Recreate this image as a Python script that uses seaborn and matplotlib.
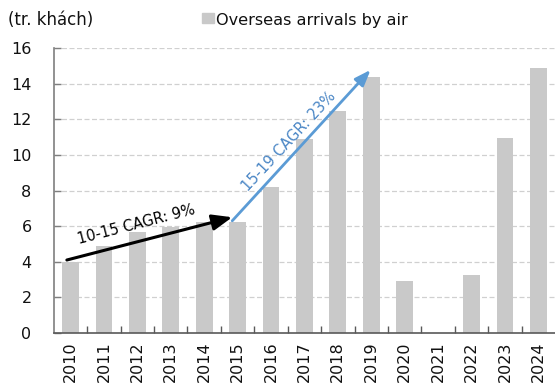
import matplotlib
matplotlib.use("Agg")
import matplotlib.pyplot as plt
import seaborn as sns
import pandas as pd

years = ["2010", "2011", "2012", "2013", "2014", "2015", "2016", "2017",
         "2018", "2019", "2020", "2021", "2022", "2023", "2024"]
arrivals = [4.0, 4.9, 5.65, 5.98, 6.25, 6.25, 8.22, 10.9, 12.47, 14.38,
            2.94, 0.0, 3.24, 10.95, 14.85]
series_name = "Overseas arrivals by air"
unit_label = "(tr. khách)"
cagr_labels = ["10-15 CAGR: 9%", "15-19 CAGR: 23%"]

sns.set_theme(style="white")
plt.rcParams["font.family"] = ["DejaVu Sans"]

df = pd.DataFrame({"year": years, "value": arrivals})

fig = plt.figure(figsize=(5.55, 3.9), dpi=100)
ax = fig.add_axes([0.097, 0.146, 0.903, 0.731])

bar_color = "#C9C9C9"
sns.barplot(data=df, x="year", y="value", color=bar_color, width=0.5,
            saturation=1, linewidth=0, ax=ax)

ax.set_xlim(-0.5, len(years) - 0.5)
ax.set_ylim(0, 16)
ax.set_yticks(range(0, 17, 2))
ax.set_xlabel("")
ax.set_ylabel("")

# dashed grid lines
for v in range(2, 17, 2):
    ax.axhline(v, color="#D0D0D0", lw=0.9, ls=(0, (4, 2)), zorder=0)
ax.set_axisbelow(True)

for s in ["top", "right"]:
    ax.spines[s].set_visible(False)
ax.spines["left"].set_color("#7F7F7F")
ax.spines["left"].set_linewidth(1.2)
ax.spines["bottom"].set_color("#595959")
ax.spines["bottom"].set_linewidth(1.2)

ax.tick_params(axis="y", left=True, direction="in", length=5, width=1,
               color="#7F7F7F", labelsize=11.5, pad=16, labelcolor="#111111")
ax.tick_params(axis="x", which="major", bottom=False, length=0, labelsize=11.5,
               labelrotation=90, pad=6, labelcolor="#111111")
ax.set_xticks([i + 0.5 for i in range(len(years) - 1)], minor=True)
ax.tick_params(axis="x", which="minor", bottom=True, direction="in", length=5,
               width=1, color="#595959")

# CAGR arrows
ax.annotate("", xy=(4.84, 6.5), xytext=(-0.11, 4.1),
            arrowprops=dict(arrowstyle="-|>,head_length=1.0,head_width=0.4",
                            color="black", lw=2.2, shrinkA=0, shrinkB=0))
ax.annotate("", xy=(8.98, 14.77), xytext=(4.84, 6.3),
            arrowprops=dict(arrowstyle="-|>,head_length=0.8,head_width=0.3",
                            color="#5B9BD5", lw=2.0, shrinkA=0, shrinkB=0))
ax.text(1.98, 6.07, cagr_labels[0], rotation=14.5, ha="center", va="center",
        fontsize=10.5, color="black", rotation_mode="anchor")
ax.text(6.55, 10.75, cagr_labels[1], rotation=47, ha="center", va="center",
        fontsize=10.5, color="#4A86C5", rotation_mode="anchor")

# unit label and legend
fig.text(0.015, 0.948, unit_label, fontsize=12, color="#111111",
         ha="left", va="center")
fig.patches.append(plt.Rectangle((0.364, 0.941), 0.021, 0.026,
                                 transform=fig.transFigure,
                                 color=bar_color, figure=fig))
fig.text(0.39, 0.948, series_name, fontsize=11.6, color="#111111",
         ha="left", va="center")

fig.savefig("out.png", dpi=100)
